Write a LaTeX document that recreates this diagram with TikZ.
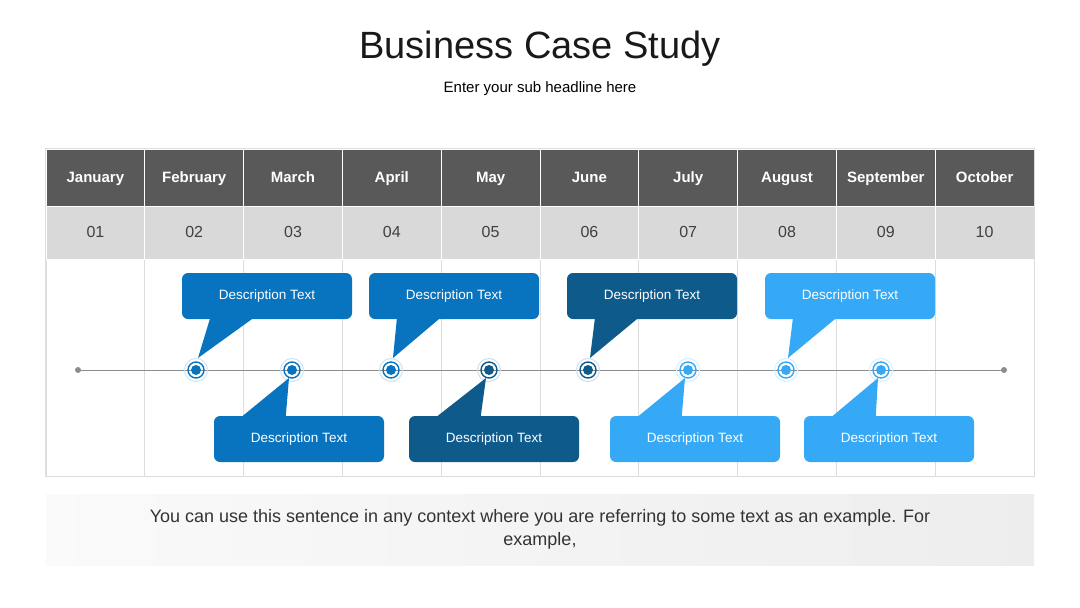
\documentclass[tikz,border=0pt]{standalone}
\usepackage{fontspec}
\setmainfont{Liberation Sans}
\usetikzlibrary{positioning,shadows}

\definecolor{hdgray}{HTML}{595959}
\definecolor{numgray}{HTML}{D9D9D9}
\definecolor{gridgray}{HTML}{DDDDDD}
\definecolor{midblue}{HTML}{0873BE}
\definecolor{navyblue}{HTML}{0E5A8A}
\definecolor{skyblue}{HTML}{35A9F6}

\begin{document}
\begin{tikzpicture}[
x=1pt,y=-1pt,
cell/.style={
rectangle,
minimum width=98.8pt,
inner sep=0pt,
text height=2.1ex,
text depth=.3ex,
anchor=center},
month/.style={cell,fill=hdgray,draw=white,line width=1pt,minimum height=57pt,
text=white,font=\fontsize{15}{18}\selectfont\bfseries},
num/.style={cell,fill=numgray,draw=white,line width=1pt,minimum height=53pt,
text=black!75,font=\fontsize{16}{19}\selectfont},
body/.style={cell,draw=gridgray,line width=.8pt,minimum height=217pt},
callout/.style={rectangle,rounded corners=6pt,fill=#1,text=white,
minimum width=170pt,minimum height=46pt,inner sep=0pt,
font=\fontsize{13.5}{16}\selectfont},
marker/.style={circle,fill=#1,inner sep=0pt,minimum size=10pt},
endpt/.style={circle,fill=black!45,inner sep=0pt,minimum size=6pt}
]

\useasboundingbox (0,0) rectangle (1080,608);

\node[text=black!90,font=\fontsize{38}{44}\selectfont] (title) at (540,49) {Business Case Study};
\node[text=black,font=\fontsize{15}{18}\selectfont] (sub) at (540,89) {Enter your sub headline here};

\foreach \m/\n[count=\i] in {January/01,February/02,March/03,April/04,May/05,June/06,July/07,August/08,September/09,October/10}{
\node[body] (b\i) at ({46+98.8*(\i-0.5)},367.5) {};
\node[month] (h\i) at ({46+98.8*(\i-0.5)},177.5) {\m};
\node[num] (d\i) at ({46+98.8*(\i-0.5)},232.5) {\n};
}
\draw[gridgray,line width=.8pt] (h1.north west) rectangle (b10.south east);

\node[endpt] (s) at (78,370) {};
\node[endpt] (e) at (1004,370) {};
\draw[black!45,line width=1pt] (s)--(e);

\node[callout=midblue] (u1) at (267,296) {Description Text};
\node[callout=midblue] (u2) at (454,296) {Description Text};
\node[callout=navyblue] (u3) at (652,296) {Description Text};
\node[callout=skyblue] (u4) at (850,296) {Description Text};
\node[callout=midblue] (l1) at (299,439) {Description Text};
\node[callout=navyblue] (l2) at (494,439) {Description Text};
\node[callout=skyblue] (l3) at (695,439) {Description Text};
\node[callout=skyblue] (l4) at (889,439) {Description Text};

\foreach \x/\c[count=\i] in {196/midblue,292/midblue,391/midblue,489/navyblue,588/navyblue,688/skyblue,786/skyblue,881/skyblue}{
\coordinate (c\i) at (\x,370);
\draw[\c!20,line width=1pt] (c\i) circle (11.5);
\draw[\c,line width=1.4pt] (c\i) circle (8);
\node[marker=\c] (m\i) at (c\i) {};
}

\foreach \u/\m/\c in {u1/1/midblue,u2/3/midblue,u3/5/navyblue,u4/7/skyblue}{
\fill[\c] ([xshift=28pt]\u.south west)--([xshift=70pt]\u.south west)--([xshift=2pt,yshift=12pt]m\m.center)--cycle;
}
\foreach \l/\m/\c in {l1/2/midblue,l2/4/navyblue,l3/6/skyblue,l4/8/skyblue}{
\fill[\c] ([xshift=29pt]\l.north west)--([xshift=72pt]\l.north west)--([xshift=-3pt,yshift=-8pt]m\m.center)--cycle;
}

\node[rectangle,minimum width=988pt,minimum height=71pt,left color=black!2,right color=black!7,
drop shadow={opacity=.12,shadow xshift=0pt,shadow yshift=-1pt},
align=center,text=black!80,font=\fontsize{18}{23}\selectfont] (note) at (540,529.5)
{You can use this sentence in any context where you are referring to some text as an example. For\\example,};

\end{tikzpicture}
\end{document}
